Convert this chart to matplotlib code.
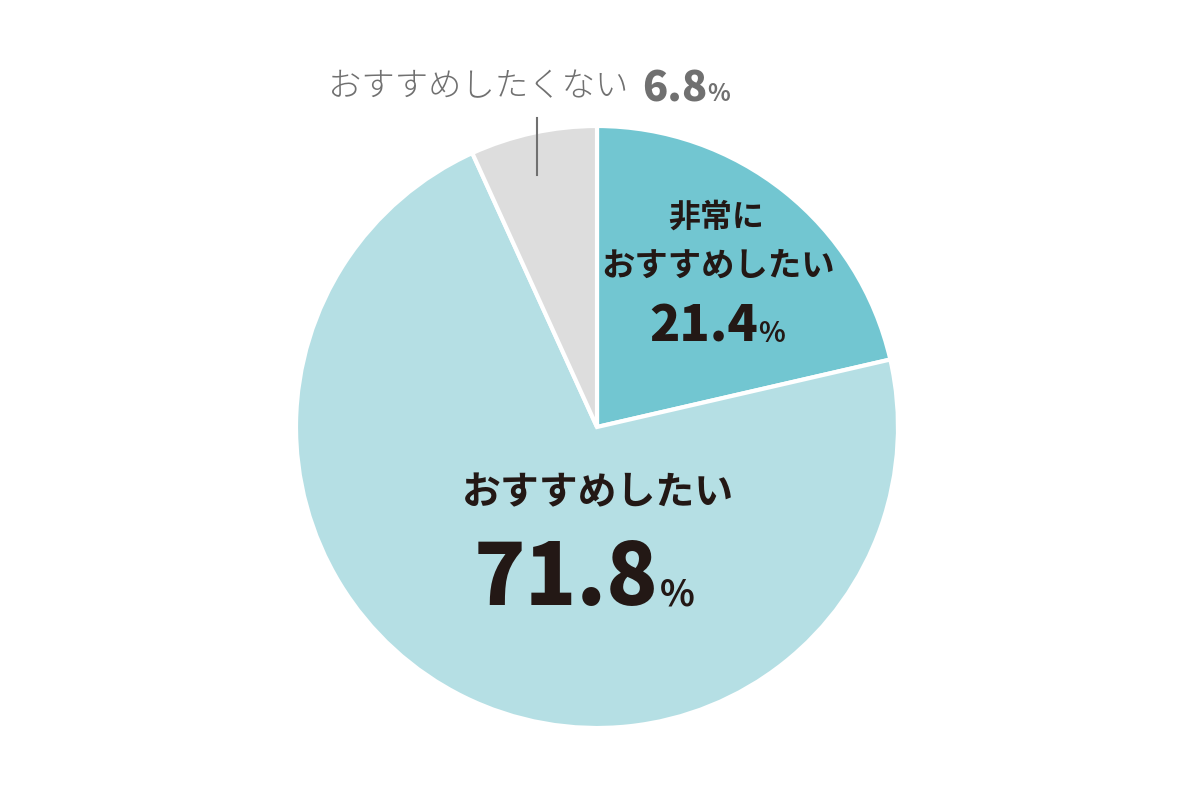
import matplotlib.pyplot as plt

plt.rcParams["font.family"] = ["Noto Sans CJK JP", "DejaVu Sans"]

labels = ["非常に\nおすすめしたい", "おすすめしたい", "おすすめしたくない"]
values = [21.4, 71.8, 6.8]
value_texts = ["21.4", "71.8", "6.8"]
colors = ["#72c6d1", "#b5dfe4", "#dddddd"]

DARK = "#231815"
GRAY = "#707070"

H = 785

fig = plt.figure(figsize=(12, 7.85), dpi=100)
ax = fig.add_axes([0, 0, 1, 1])


def add_value(x, y, text, size, pct_size, color, gap=0):
    # number right-aligned at x, then a smaller % on the same baseline
    t = ax.text(x, y, text, ha="right", va="baseline", fontsize=size,
                fontweight="black", color=color)
    fig.canvas.draw()
    bb = t.get_window_extent()
    right = ax.transData.inverted().transform((bb.x1, bb.y0))[0]
    ax.text(right + gap, y, "%", ha="left", va="baseline",
            fontsize=pct_size, fontweight="bold", color=color)


# pie centred at pixel (597, 427)
ax.pie(values, colors=colors, startangle=90, counterclock=False,
       center=(597, H - 427), radius=301,
       wedgeprops={"edgecolor": "white", "linewidth": 3})
ax.set_aspect("equal")
ax.set_xlim(0, 1200)
ax.set_ylim(0, H)
ax.axis("off")

# 非常におすすめしたい
ax.text(716, H - 218, "非常に", ha="center", va="center",
        fontsize=23, fontweight="bold", color=DARK)
ax.text(718, H - 266, "おすすめしたい", ha="center", va="center",
        fontsize=24, fontweight="bold", color=DARK)
add_value(758, H - 342, value_texts[0], 36, 20, DARK)

# おすすめしたい
ax.text(598, H - 493, labels[1], ha="center", va="center",
        fontsize=28, fontweight="bold", color=DARK)
add_value(658, H - 605, value_texts[1], 61, 26, DARK, gap=2)

# おすすめしたくない
ax.text(328, H - 87, labels[2], ha="left", va="center",
        fontsize=24, fontweight="light", color=GRAY)
add_value(707, H - 101, value_texts[2], 30, 17, GRAY)
ax.plot([537, 537], [H - 118, H - 175], color=GRAY, linewidth=1.5)

fig.savefig("out.png", dpi=100, facecolor="white")
